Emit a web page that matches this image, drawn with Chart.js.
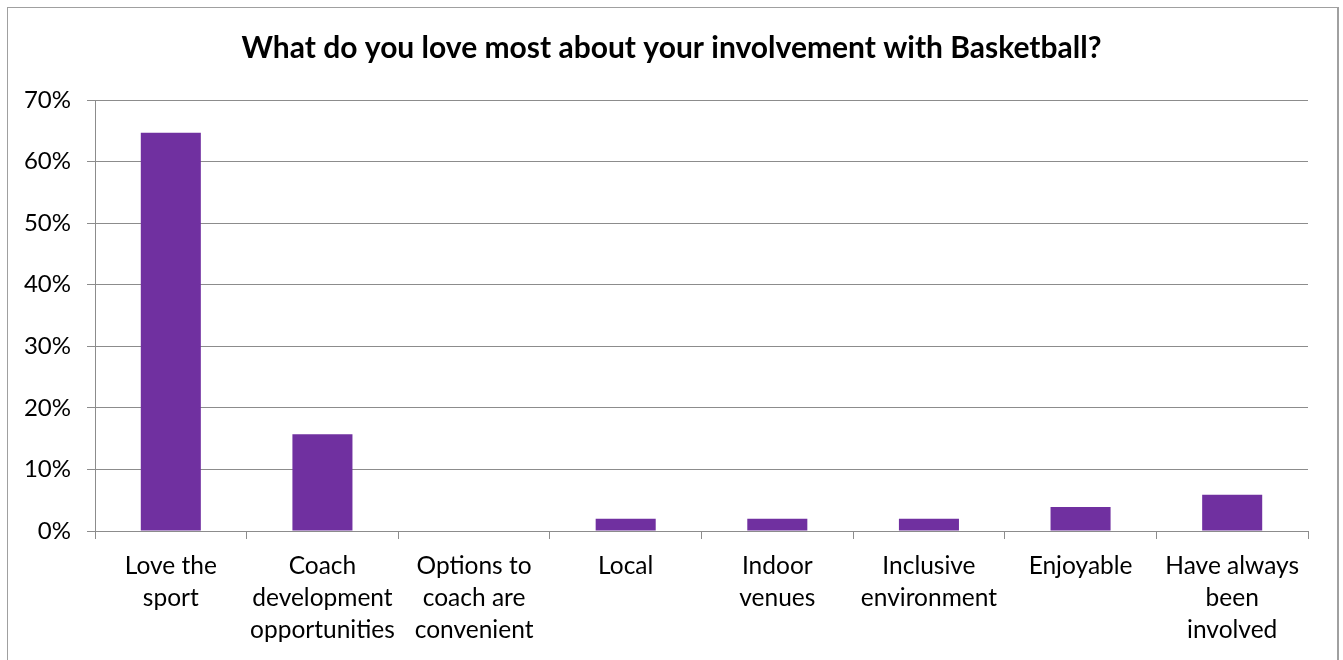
<!DOCTYPE html>
<html><head><meta charset="utf-8">
<script src="https://cdn.jsdelivr.net/npm/chart.js@4"></script>
<style>
html,body{margin:0;padding:0;background:#fff;overflow:hidden}
#frame{position:absolute;left:7px;top:7px;width:1332px;height:720px;border:1px solid #a0a0a0;border-right:2px solid #a0a0a0;box-sizing:border-box}
#wrap{position:absolute;left:0;top:0;width:1343px;height:660px}
</style></head><body>
<div id="frame"></div>
<div id="wrap"><canvas id="c"></canvas></div>
<script>
const titleText = "What do you love most about your involvement with Basketball?";
const categories = [
  ["Love the","sport"],
  ["Coach","development","opportunities"],
  ["Options to","coach are","convenient"],
  ["Local"],
  ["Indoor","venues"],
  ["Inclusive","environment"],
  ["Enjoyable"],
  ["Have always","been","involved"]
];
const values = [64.7, 15.7, 0, 2.0, 2.0, 2.0, 3.9, 5.9];
const yMin = 0, yMax = 70, yStep = 10;

const FONT = "Lato, 'Open Sans', sans-serif";
new Chart(document.getElementById('c'), {
  type: 'bar',
  data: {
    labels: categories,
    datasets: [{ data: values, backgroundColor: '#7030A0', borderWidth: 0,
      categoryPercentage: 1, barPercentage: 0.396 }]
  },
  options: {
    responsive: true, maintainAspectRatio: false, animation: false,
    layout: { padding: { left: 0, right: 0, top: 0, bottom: 0 } },
    plugins: {
      legend: { display: false }, tooltip: { enabled: false },
      title: { display: true, text: titleText, color: '#000',
        font: { family: FONT, size: 30, weight: 'bold', lineHeight: 1.2 },
        padding: { top: 30, bottom: 34 } }
    },
    scales: {
      y: {
        min: yMin, max: yMax,
        ticks: { stepSize: yStep, callback: v => v + '%', color: '#000',
          font: { family: FONT, size: 24 }, padding: 16 },
        grid: { color: '#8c8c8c', tickLength: 8, lineWidth: 1 },
        border: { color: '#8c8c8c' },
        afterFit: s => { s.width = 95; }
      },
      spacer: {
        type: 'linear', position: 'right', display: true,
        grid: { display: false, drawTicks: false }, border: { display: false },
        ticks: { display: false },
        afterFit: s => { s.width = 35; }
      },
      x: {
        offset: true,
        grid: { display: true, drawOnChartArea: false, offset: true, color: '#8c8c8c', tickLength: 8 },
        border: { color: '#8c8c8c' },
        ticks: { color: '#000', font: { family: FONT, size: 24.5, lineHeight: '32px' },
          padding: 11, maxRotation: 0, autoSkip: false },
        afterFit: s => { s.height = 129; }
      }
    }
  }
});
</script>
</body></html>
